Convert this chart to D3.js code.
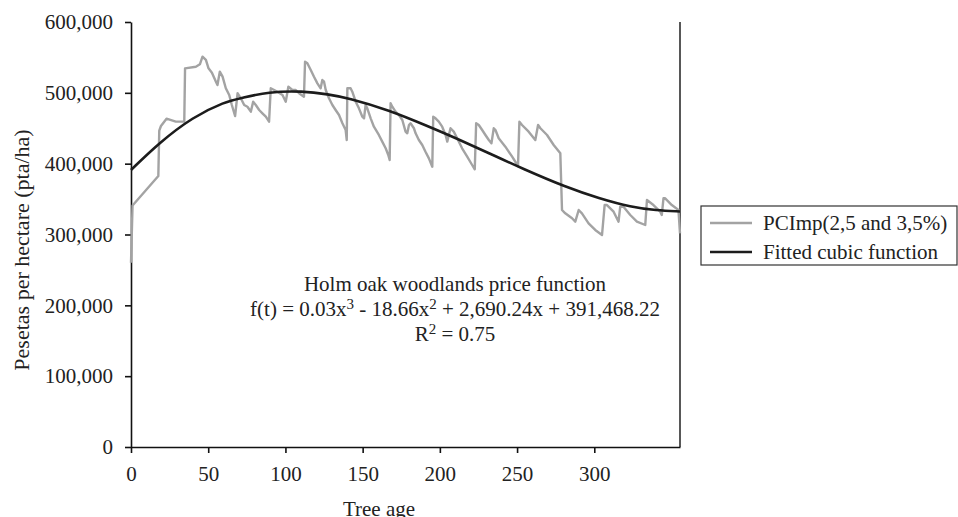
<!DOCTYPE html>
<html>
<head>
<meta charset="utf-8">
<script src="https://cdn.jsdelivr.net/npm/d3@7"></script>
<style>
  body { margin: 0; background: #fff; }
  text { font-family: "Liberation Serif", "DejaVu Serif", serif; fill: #222; }
</style>
</head>
<body>
<div id="chart"></div>
<script>
// tree age (x) and PCImp price (pta/ha)
var ages = [0,1,17.7,18.3,19.4,23,29,34.5,35,42,44.6,46.3,48.5,50.2,52.4,55,56,57.5,59.3,61.4,63.6,65.3,67.4,69,71.1,73.3,75.4,77.6,79.1,80.8,83,85.1,87.3,89.4,90.5,92.7,94.8,98.1,100.2,101.9,104.5,106.7,108.8,112,112.7,114.2,116.4,118.5,120.7,122.8,123.9,125,126.1,128.2,130.4,132.5,134.7,136.9,139,139.7,140.1,142.2,143.3,145.5,147.6,149.8,150.9,151.9,153,155.2,157.3,160.5,162.7,164.9,166.6,167.5,168.1,169.2,171.3,173.5,175.7,177.8,178.9,180,181,183.2,184.3,186.4,188.6,190.7,192.9,195.1,195.7,197.2,199.3,201.5,203.7,204.8,206.9,209,211.2,214.4,217.7,220.9,222.6,223.5,225.2,227.4,229.5,231.7,233.4,234.9,236,238.1,242.4,246.8,250.6,251.5,253.2,257.5,261.8,263.6,265.1,269.4,273.7,278,279.1,281.2,285.6,287.7,289.9,292,296.3,300.6,305,306.7,308.2,312.5,315.7,316.8,318.9,323.3,327.6,333,334.1,338.3,342.7,343.7,344.8,345.9,350.2,354.5,355.5];
var pciValues = [260000,341000,382600,446600,453200,463500,459300,459300,534600,536900,540300,551000,546400,534600,528400,515700,511000,529900,522800,506400,496900,482800,467300,499400,492300,482800,480400,473400,487500,482800,475800,471100,466300,459300,506400,504000,501600,496900,487500,508700,504000,504000,499400,494600,544000,541700,532300,522800,513400,506400,518100,515700,504000,492300,482800,475800,468700,457000,447500,433400,506400,506400,501600,487500,478100,466300,464000,482800,478100,464000,452200,440500,431100,421700,412300,405200,485200,480400,473400,468700,461700,445200,442900,454600,457000,450000,442900,433400,426400,416900,407500,395700,466300,464000,459300,452200,440500,431100,450000,445200,435800,421700,409900,398100,392000,457000,454600,447500,440500,433400,428700,450000,447500,435800,424000,409900,396700,459300,454600,445200,433400,454600,450000,440500,426400,414600,334600,329900,322900,318100,334600,329900,315800,306400,299300,341600,341600,332200,318100,339200,339200,327500,318100,313400,348700,341600,332200,327500,351100,351100,341600,334600,301700];

// fitted cubic as drawn in the reference
var fitAges = [0,18,40,61,71,89,111,128,140,167,193,212,232,253,282,303,324,340,355.5];
var fitValues = [391000,429000,466000,487500,492300,501600,502600,497900,493000,475800,452200,434500,414600,393500,366500,351100,338500,334000,332500];

var xTicks = [0,50,100,150,200,250,300];
var yTicks = [0,100000,200000,300000,400000,500000,600000];
var seriesNames = ["PCImp(2,5 and 3,5%)","Fitted cubic function"];
var seriesColors = ["#a3a3a3","#1c1c1c"];

var W = 958, H = 517;
var plot = {left: 131, right: 680, top: 22, bottom: 447};

var svg = d3.select("#chart")
  .append("svg")
  .attr("width", W)
  .attr("height", H);

var x = d3.scaleLinear()
  .domain([0, 355.5])
  .range([plot.left, plot.right]);
var y = d3.scaleLinear()
  .domain([0, 600000])
  .range([plot.bottom, plot.top]);

// x axis
var gx = svg.append("g")
  .attr("transform", `translate(0,${plot.bottom})`)
  .call(d3.axisBottom(x).tickValues(xTicks).tickFormat(d3.format("d")).tickSize(6).tickPadding(13).tickSizeOuter(0));
// y axis
var gy = svg.append("g")
  .attr("transform", `translate(${plot.left},0)`)
  .call(d3.axisLeft(y).tickValues(yTicks).tickFormat(d3.format(",")).tickSize(6).tickPadding(12).tickSizeOuter(0));

[gx, gy].forEach(function(g) {
  g.selectAll("path, line").attr("stroke", "#111").attr("stroke-width", 1.6);
  g.selectAll("text").style("font-size", "21px").attr("fill", "#222");
});

// right frame line
svg.append("line")
  .attr("x1", plot.right).attr("x2", plot.right)
  .attr("y1", plot.top).attr("y2", plot.bottom)
  .attr("stroke", "#111")
  .attr("stroke-width", 1.4);

var pciData = ages.map((a, i) => ({age: a, value: pciValues[i]}));
var fitData = fitAges.map((a, i) => ({age: a, value: fitValues[i]}));

svg.append("path")
  .datum(pciData)
  .attr("fill", "none")
  .attr("stroke", seriesColors[0])
  .attr("stroke-width", 2.4)
  .attr("stroke-linejoin", "round")
  .attr("d", d3.line().x(d => x(d.age)).y(d => y(d.value)));

svg.append("path")
  .datum(fitData)
  .attr("fill", "none")
  .attr("stroke", seriesColors[1])
  .attr("stroke-width", 2.6)
  .attr("d", d3.line().curve(d3.curveBasis).x(d => x(d.age)).y(d => y(d.value)));

// axis titles
svg.append("text")
  .attr("x", 379)
  .attr("y", 516)
  .attr("text-anchor", "middle")
  .style("font-size", "21px")
  .text("Tree age");

svg.append("text")
  .attr("transform", "translate(29,250) rotate(-90)")
  .attr("text-anchor", "middle")
  .style("font-size", "22px")
  .text("Pesetas per hectare (pta/ha)");

// annotation
var note = svg.append("g").attr("transform", "translate(455,0)");
note.append("text")
  .attr("y", 291)
  .attr("text-anchor", "middle")
  .style("font-size", "21px")
  .text("Holm oak woodlands price function");

var formula = [["f(t) = 0.03x", 0], ["3", 1], [" - 18.66x", 0], ["2", 1], [" + 2,690.24x + 391,468.22", 0]];
var ft = note.append("text")
  .attr("y", 316)
  .attr("text-anchor", "middle")
  .style("font-size", "21px");
var prev = 0;
formula.forEach(function(p) {
  ft.append("tspan")
    .attr("dy", p[1] ? -7 : (prev ? 7 : 0))
    .style("font-size", p[1] ? "15px" : "21px")
    .text(p[0]);
  prev = p[1];
});

var r2 = note.append("text")
  .attr("y", 341)
  .attr("text-anchor", "middle")
  .style("font-size", "21px");
r2.append("tspan").text("R");
r2.append("tspan").attr("dy", -7).style("font-size", "15px").text("2");
r2.append("tspan").attr("dy", 7).text(" = 0.75");

// legend
var legend = svg.append("g");
legend.append("rect")
  .attr("x", 701).attr("y", 206)
  .attr("width", 256).attr("height", 59)
  .attr("fill", "#fff")
  .attr("stroke", "#333")
  .attr("stroke-width", 1.2);

var item = legend.selectAll(".item")
  .data(seriesNames)
  .enter().append("g")
  .attr("class", "item")
  .attr("transform", (d, i) => `translate(710,${223 + i * 29})`);

item.append("line")
  .attr("x1", 0).attr("x2", 42)
  .attr("stroke", (d, i) => seriesColors[i])
  .attr("stroke-width", (d, i) => i ? 2.6 : 2.4);

item.append("text")
  .attr("x", 53)
  .attr("dy", "0.32em")
  .style("font-size", "21px")
  .text(d => d);
</script>
</body>
</html>
